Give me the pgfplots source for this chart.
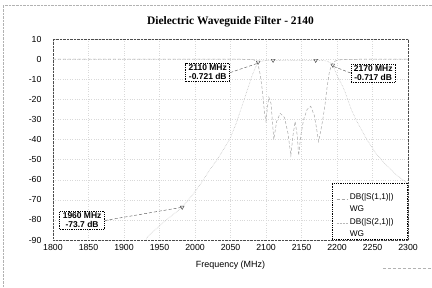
\documentclass[border=0pt]{standalone}
\usepackage{pgfplots}
\pgfplotsset{compat=1.18}
\usepackage{fontspec}
\setmainfont{Liberation Sans}
\newfontfamily\titlefont{Liberation Serif}

\pgfplotstableread{
f dB
1800 -0.02
1900 -0.02
2000 -0.03
2060 -0.05
2075 -0.1
2082 -0.3
2086 -1
2089 -3
2092 -8
2095 -16
2098 -27
2100 -31
2102 -24
2104 -19
2107 -22
2111 -40
2115 -31
2120 -27
2126 -29
2131 -37
2135 -48
2138 -38
2141 -31
2144 -38
2146 -48
2149 -38
2153 -30
2158 -25
2163 -23.5
2168 -28
2171 -34
2174 -41
2177 -36
2180 -30
2183 -23
2186 -14
2189 -7
2192 -3
2196 -1.2
2202 -0.4
2215 -0.1
2250 -0.04
2300 -0.02
}\sone

\pgfplotstableread{
f dB
1920 -97
1934 -88
1958 -80.5
1982 -73.7
2000 -66
2010 -61
2020 -55.5
2032 -49.6
2040 -45
2049 -39.8
2058 -32
2068 -21.5
2075 -14
2080 -8.5
2086 -3.5
2089 -1.5
2095 -0.9
2100 -0.7
2110 -0.6
2120 -0.7
2130 -0.55
2140 -0.7
2150 -0.55
2160 -0.7
2170 -0.6
2180 -0.7
2186 -1
2190 -1.7
2194 -3
2200 -8
2208 -13.6
2211 -16
2220 -25
2228 -31
2242 -40
2255 -47
2270 -53
2285 -58
2300 -62
}\stwo

\pgfplotstableread{
f dB
2110 -0.6
2170 -0.6
2089 -1.5
2194 -3
1982 -73.7
}\marks

\begin{document}
\begin{tikzpicture}
\useasboundingbox (0,0) rectangle (432bp,288bp);
\draw[gray!60, densely dotted] (3bp,0) -- (3bp,283bp) -- (432bp,283bp);
\draw[gray!60, densely dashed] (383bp,20bp) -- (432bp,20bp);
\begin{axis}[
  at={(53bp,48bp)}, anchor=south west,
  scale only axis, width=355bp, height=201bp,
  xmin=1800, xmax=2300, ymin=-90, ymax=10,
  xtick={1800,1850,1900,1950,2000,2050,2100,2150,2200,2250,2300},
  xticklabels={1800,1850,1900,1950,2000,2050,2100,2150,2200,2250,2300},
  ytick={-90,-80,-70,-60,-50,-40,-30,-20,-10,0,10},
  yticklabels={-90,-80,-70,-60,-50,-40,-30,-20,-10,0,10},
  major tick length=0pt,
  tick label style={font=\fontsize{8.8}{10}\selectfont},
  xticklabel style={yshift=-1bp},
  yticklabel style={xshift=-8bp},
  axis line style={black!70, densely dotted},
  grid=major,
  major grid style={gray!30, dotted},
  title={\titlefont\bfseries Dielectric Waveguide Filter - 2140},
  title style={font=\fontsize{11.5}{13}\selectfont, at={(axis description cs:0.5,1)}, anchor=south, inner sep=0pt, yshift=6bp},
  xlabel={Frequency (MHz)},
  xlabel style={font=\fontsize{9}{10}\selectfont, at={(axis description cs:0.5,0)}, anchor=north, inner sep=0pt, yshift=-21bp},
  legend style={at={(rel axis cs:1,0)}, anchor=south east, draw=black, densely dotted, thick, fill=white,
    font=\fontsize{8.3}{9.5}\selectfont, inner xsep=4bp, inner ysep=6bp, row sep=5bp, cells={anchor=west}},
  legend image code/.code={\draw[#1] (0bp,0bp) -- (11bp,0bp);},
  legend cell align=left,
]
\addplot[gray!70, densely dashed, line width=0.5pt] table[x=f,y=dB] {\sone};
\addlegendentry{\renewcommand{\arraystretch}{1.3}\begin{tabular}{@{}l@{\hspace{8bp}}}DB(|S(1,1)|)\\WG\end{tabular}}
\addplot[gray!55, densely dotted, line width=0.55pt] table[x=f,y=dB] {\stwo};
\addlegendentry{\renewcommand{\arraystretch}{1.3}\begin{tabular}{@{}l@{\hspace{8bp}}}DB(|S(2,1)|)\\WG\end{tabular}}
\addplot[only marks, mark=triangle, mark size=2.2pt, black!75, mark options={rotate=180, solid, thin}, forget plot] table[x=f,y=dB] {\marks};

\node[draw=black, densely dotted, thick, fill=white, align=center, inner xsep=3bp, inner ysep=1.5bp,
  font=\fontsize{8.5}{9}\selectfont\bfseries] (b1) at (axis cs:2018,-6.7) {2110 MHz\\-0.721 dB};
\node[draw=black, densely dotted, thick, fill=white, align=center, inner xsep=3bp, inner ysep=1.5bp,
  font=\fontsize{8.5}{9}\selectfont\bfseries] (b2) at (axis cs:2251,-6.9) {2170 MHz\\-0.717 dB};
\node[draw=black, densely dotted, thick, fill=white, align=center, inner xsep=3bp, inner ysep=1.5bp,
  font=\fontsize{8.5}{9}\selectfont\bfseries] (b3) at (axis cs:1841,-80.3) {1960 MHz\\-73.7 dB};
\draw[black!70, densely dashed] (b1.east) -- (axis cs:2089,-2);
\draw[black!70, densely dashed] (b2.west) -- (axis cs:2194,-3.5);
\draw[black!70, densely dashed] (b3.east) -- (axis cs:1982,-73.7);
\end{axis}
\end{tikzpicture}
\end{document}
